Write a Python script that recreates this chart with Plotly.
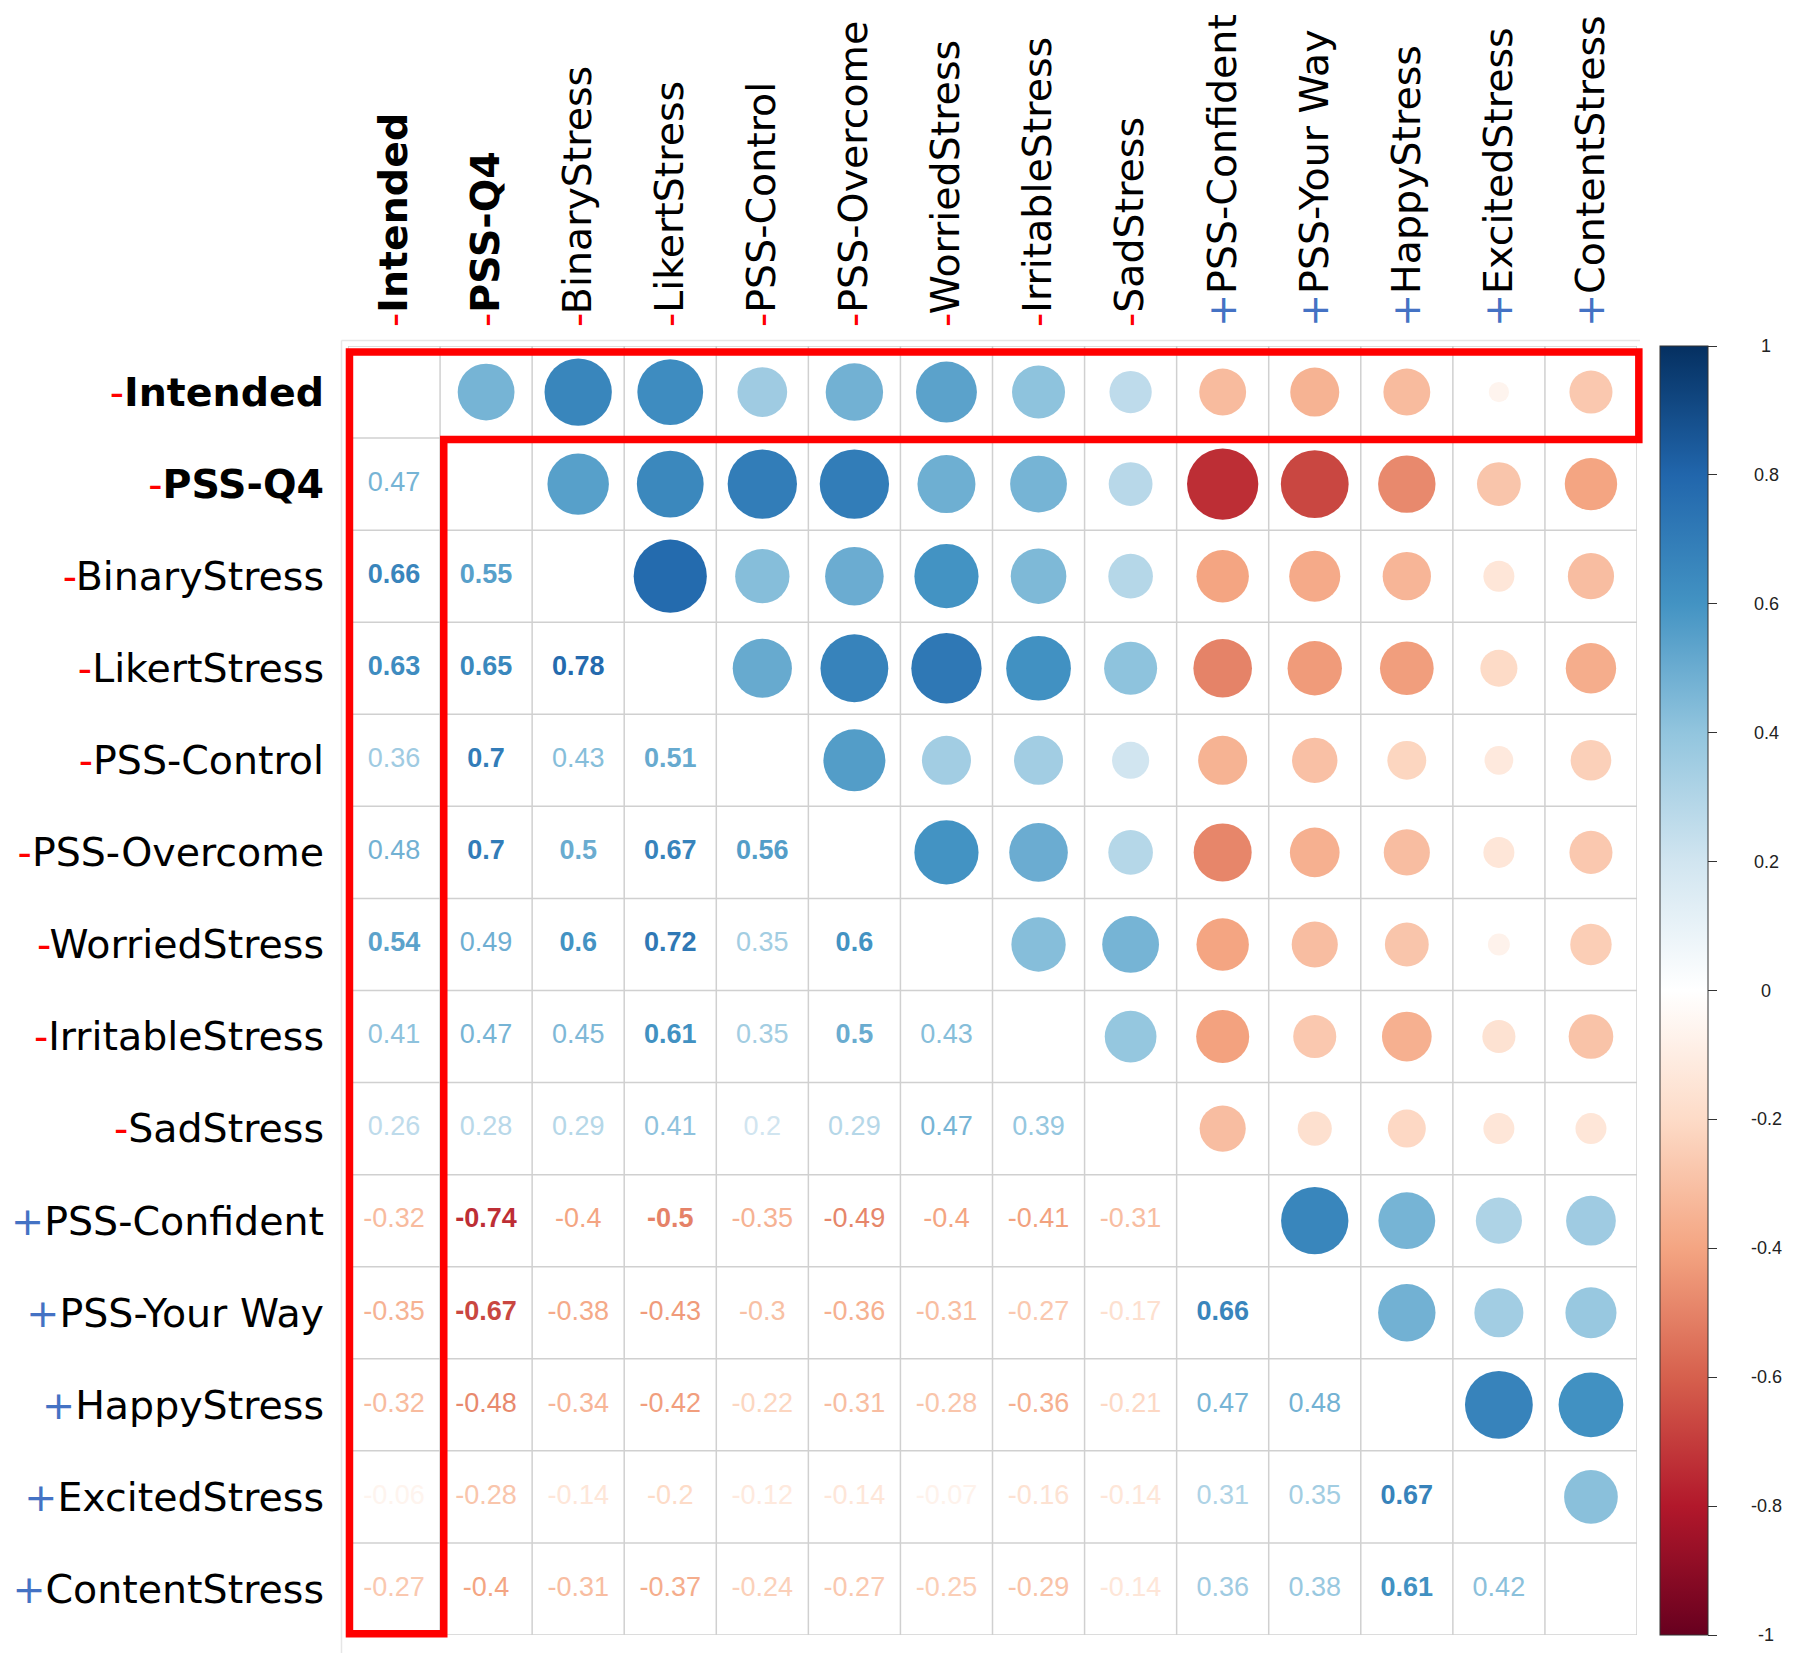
"""
Correlation matrix of stress measures, corrplot style:
circles in the upper triangle, coefficients in the lower one.
"""

import math
import plotly.graph_objects as go

# variables in matrix order, with their sign prefix
variables = ["Intended", "PSS-Q4", "BinaryStress", "LikertStress", "PSS-Control",
             "PSS-Overcome", "WorriedStress", "IrritableStress", "SadStress",
             "PSS-Confident", "PSS-Your Way", "HappyStress", "ExcitedStress",
             "ContentStress"]
signs = ["-"] * 9 + ["+"] * 5
bold_vars = ["Intended", "PSS-Q4"]

# lower triangle, row by row (columns before the diagonal)
lower = [
    [],
    [0.47],
    [0.66, 0.55],
    [0.63, 0.65, 0.78],
    [0.36, 0.7, 0.43, 0.51],
    [0.48, 0.7, 0.5, 0.67, 0.56],
    [0.54, 0.49, 0.6, 0.72, 0.35, 0.6],
    [0.41, 0.47, 0.45, 0.61, 0.35, 0.5, 0.43],
    [0.26, 0.28, 0.29, 0.41, 0.2, 0.29, 0.47, 0.39],
    [-0.32, -0.74, -0.4, -0.5, -0.35, -0.49, -0.4, -0.41, -0.31],
    [-0.35, -0.67, -0.38, -0.43, -0.3, -0.36, -0.31, -0.27, -0.17, 0.66],
    [-0.32, -0.48, -0.34, -0.42, -0.22, -0.31, -0.28, -0.36, -0.21, 0.47, 0.48],
    [-0.06, -0.28, -0.14, -0.2, -0.12, -0.14, -0.07, -0.16, -0.14, 0.31, 0.35, 0.67],
    [-0.27, -0.4, -0.31, -0.37, -0.24, -0.27, -0.25, -0.29, -0.14, 0.36, 0.38, 0.61, 0.42],
]

cbar_ticks = [-1, -0.8, -0.6, -0.4, -0.2, 0, 0.2, 0.4, 0.6, 0.8, 1]

# corrplot RdBu palette
palette = ["#67001F", "#B2182B", "#D6604D", "#F4A582", "#FDDBC7", "#FFFFFF",
           "#D1E5F0", "#92C5DE", "#4393C3", "#2166AC", "#053061"]
colorscale = [[i / (len(palette) - 1), c] for i, c in enumerate(palette)]


def value_color(v):
    t = (v + 1) / 2 * (len(palette) - 1)
    i = min(int(t), len(palette) - 2)
    f = t - i
    a = [int(palette[i][k:k + 2], 16) for k in (1, 3, 5)]
    b = [int(palette[i + 1][k:k + 2], 16) for k in (1, 3, 5)]
    r, g, bl = [round(a[k] + (b[k] - a[k]) * f) for k in range(3)]
    return f"rgb({r},{g},{bl})"


n = len(variables)
W, H = 1800, 1658
ML, MR, MT, MB = 340, 171, 338, 31
PW, PH = W - ML - MR, H - MT - MB
cell_px = PW / n


def fx(px):
    # figure pixel -> paper x
    return (px - ML) / PW


def fy(py):
    # figure pixel -> paper y
    return 1 - (py - MT) / PH


# labels
def label(name, sign):
    col = "#FF0000" if sign == "-" else "#4472C4"
    txt = f"<b>{name}</b>" if name in bold_vars else name
    return f'<span style="color:{col}">{sign}</span>{txt}'

tick_text = [label(v, s) for v, s in zip(variables, signs)]

# points
cx, cy, cval, csize = [], [], [], []
tx, ty, ttext, tcol = [], [], [], []
for i in range(n):
    for j, v in enumerate(lower[i]):
        # lower triangle: the number
        tx.append(j)
        ty.append(i)
        s = str(v)
        ttext.append(f"<b>{s}</b>" if abs(v) >= 0.5 else s)
        tcol.append(value_color(v))
        # upper triangle: the circle
        cx.append(i)
        cy.append(j)
        cval.append(v)
        csize.append(0.9 * math.sqrt(abs(v)) * cell_px)

fig = go.Figure()

fig.add_trace(go.Scatter(
    x=cx, y=cy, mode="markers",
    marker=dict(
        size=csize, color=cval, colorscale=colorscale, cmin=-1, cmax=1,
        opacity=1, line=dict(width=0),
        showscale=True,
        colorbar=dict(
            x=fx(1652), xanchor="left",
            y=0.5, yanchor="middle", len=1, lenmode="fraction",
            thickness=48, thicknessmode="pixels", xpad=0, ypad=0,
            outlinewidth=1, outlinecolor="#333333",
            tickvals=cbar_ticks, ticks="outside", ticklen=9,
            tickcolor="#333333", showticklabels=False,
        ),
    ),
    hoverinfo="skip", showlegend=False,
))

fig.add_trace(go.Scatter(
    x=tx, y=ty, mode="text", text=ttext,
    textfont=dict(family="Liberation Sans, Arial", size=27, color=tcol),
    hoverinfo="skip", showlegend=False,
))

shapes = []
# faint outer frame
shapes.append(dict(type="line", xref="paper", yref="paper",
                   x0=fx(333.5), x1=fx(333.5), y0=fy(332.5), y1=fy(1645),
                   line=dict(color="#E6E6E6", width=1.5)))
shapes.append(dict(type="line", xref="paper", yref="paper",
                   x0=fx(333.5), x1=fx(1632), y0=fy(332.5), y1=fy(332.5),
                   line=dict(color="#E6E6E6", width=1.5)))

# cell grid
for k in range(n + 1):
    shapes.append(dict(type="line", xref="x", yref="y", x0=k - 0.5, x1=k - 0.5,
                       y0=-0.5, y1=n - 0.5, line=dict(color="#D0D0D0", width=1.5),
                       layer="below"))
    shapes.append(dict(type="line", xref="x", yref="y", y0=k - 0.5, y1=k - 0.5,
                       x0=-0.5, x1=n - 0.5, line=dict(color="#D0D0D0", width=1.5),
                       layer="below"))


# red L-shaped highlight around the "Intended" row and column
def px_(x):
    return (x + 0.5) / n


def py_(y):
    return 1 - (y + 0.5) / n

pts = [(-0.484, -0.435), (n - 0.48, -0.435), (n - 0.48, 0.515), (0.54, 0.515),
       (0.54, n - 0.514), (-0.484, n - 0.514)]
path = "M " + " L ".join(f"{px_(a):.5f},{py_(b):.5f}" for a, b in pts) + " Z"
shapes.append(dict(type="path", xref="paper", yref="paper", path=path,
                   line=dict(color="#FF0000", width=7.5)))

# colorbar labels, centred like corrplot
annotations = []
for t in cbar_ticks:
    annotations.append(dict(
        x=fx(1758), y=(t + 1) / 2,
        xref="paper", yref="paper", xanchor="center", yanchor="middle",
        text=f"{t:g}", showarrow=False,
        font=dict(family="Liberation Sans, Arial", size=18, color="#222222"),
    ))

fig.update_layout(
    width=W, height=H,
    margin=dict(l=ML, r=MR, t=MT, b=MB, autoexpand=False),
    paper_bgcolor="white", plot_bgcolor="white",
    shapes=shapes, annotations=annotations,
    xaxis=dict(
        range=[-0.5, n - 0.5], side="top", tickangle=-90,
        tickvals=list(range(n)), ticktext=tick_text,
        tickfont=dict(family="DejaVu Sans", size=39.5, color="black"),
        showgrid=False, zeroline=False, showline=False, ticks="",
        ticklabelstandoff=18, automargin=False,
    ),
    yaxis=dict(
        range=[n - 0.5, -0.5],
        tickvals=list(range(n)), ticktext=tick_text,
        tickfont=dict(family="DejaVu Sans", size=39.5, color="black"),
        showgrid=False, zeroline=False, showline=False, ticks="",
        ticklabelstandoff=23, automargin=False,
    ),
)

fig.write_html("out.html")
